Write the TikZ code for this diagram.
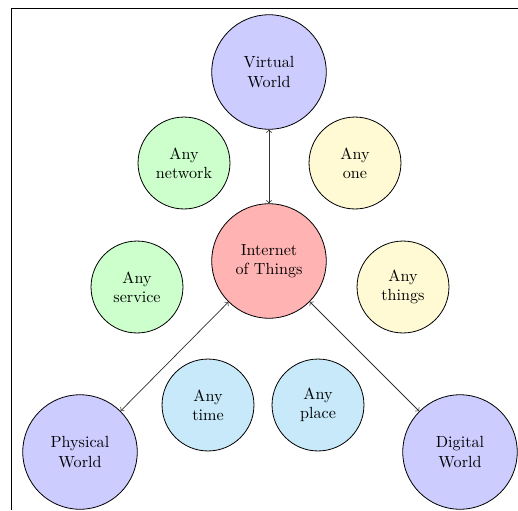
\documentclass[tikz,border=0pt]{standalone}
\usetikzlibrary{arrows}
\definecolor{worldc}{RGB}{204,204,255}
\definecolor{iotc}{RGB}{255,179,179}
\definecolor{greenc}{RGB}{204,255,204}
\definecolor{yellowc}{RGB}{255,250,212}
\definecolor{bluec}{RGB}{199,233,249}
\begin{document}
\begin{tikzpicture}[x=0.62pt,y=-0.62pt,
  bubble/.style={circle,draw=black,line width=0.5pt,align=center,inner sep=0pt,font=\normalsize},
  big/.style={bubble,minimum size=71pt},
  small/.style={bubble,minimum size=57pt},
  link/.style={<->,>=to,line width=0.45pt,draw=black!80}]
\useasboundingbox (0,0) rectangle (518,510);
\draw[line width=0.5pt] (11,510) -- (11,8) -- (518,8);
\node[big,fill=worldc] (virtual) at (269,72) {Virtual\\World};
\node[big,fill=iotc] (iot) at (269,261) {Internet\\of Things};
\node[big,fill=worldc] (physical) at (80,452) {Physical\\World};
\node[big,fill=worldc] (digital) at (460,452) {Digital\\World};
\node[small,fill=greenc] (network) at (184,163) {Any\\network};
\node[small,fill=yellowc] (one) at (355,163) {Any\\one};
\node[small,fill=greenc] (service) at (137,287) {Any\\service};
\node[small,fill=yellowc] (things) at (403,287) {Any\\things};
\node[small,fill=bluec] (time) at (208,405) {Any\\time};
\node[small,fill=bluec] (place) at (318,405) {Any\\place};
\draw[link] (virtual) -- (iot);
\draw[link] (iot) -- (physical);
\draw[link] (iot) -- (digital);
\end{tikzpicture}
\end{document}
